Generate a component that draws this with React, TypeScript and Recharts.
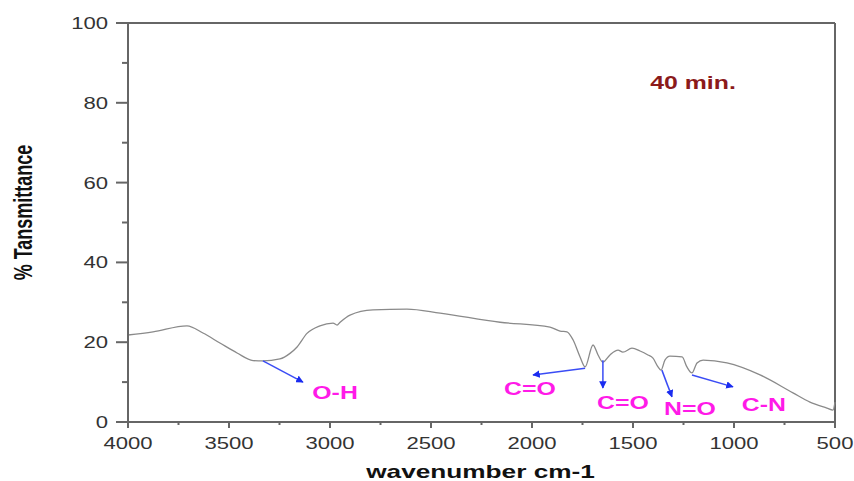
import React from 'react';
import { LineChart, Line, XAxis, YAxis, ReferenceLine, ReferenceDot } from 'recharts';

// FTIR spectrum, 40 min sample (wavenumber cm-1 vs % transmittance)
const wavenumber = [4000, 3876, 3708, 3629, 3545, 3460, 3381, 3332, 3248, 3198, 3163, 3114, 3050, 2985, 2965, 2950, 2901, 2787, 2619, 2455, 2158, 1911, 1861, 1827, 1797, 1762, 1737, 1698, 1673, 1649, 1614, 1574, 1550, 1505, 1465, 1426, 1401, 1376, 1361, 1342, 1317, 1257, 1233, 1208, 1183, 1153, 1035, 871, 708, 624, 540, 510, 500];
const transmittance = [21.8, 22.6, 24.1, 22.3, 19.8, 17.3, 15.4, 15.3, 15.8, 17.2, 18.8, 22.2, 24.1, 24.8, 24.3, 25, 26.8, 28.1, 28.3, 27.3, 25, 23.8, 22.8, 22.6, 20.6, 16.3, 13.8, 19.3, 16.8, 15, 16.8, 18, 17.5, 18.5, 17.8, 16.8, 16, 13.8, 13, 15.5, 16.5, 16.3, 13.8, 12.3, 14.8, 15.5, 14.8, 11.8, 7.3, 5, 3.5, 3, 5];

const xTicks = [4000, 3750, 3500, 3250, 3000, 2750, 2500, 2250, 2000, 1750, 1500, 1250, 1000, 750, 500];
const yTicks = [0, 10, 20, 30, 40, 50, 60, 70, 80, 90, 100];

const bandLabels = ['O-H', 'C=O', 'C=O', 'N=O', 'C-N'];
const labelWn = [2975, 2010, 1550, 1218, 852];
const labelT = [7.3, 8.3, 5, 3.3, 4.5];
const arrowFromWn = [3332, 1737, 1649, 1357, 1208];
const arrowFromT = [15.3, 13.5, 15.5, 13, 11.8];
const arrowToWn = [3134, 1995, 1649, 1307, 1005];
const arrowToT = [10, 11.8, 8.5, 6.3, 8.8];

const data = wavenumber.map((w, i) => ({ wn: w, t: transmittance[i] }));

const axisColor = '#666';
const font = '"Liberation Sans", Arial, sans-serif';
const stretch = 1.38; // text in the original is stretched horizontally

const SText = ({ x, y, anchor = 'middle', size, fill, bold, rotate, children }: any) => (
  <text
    transform={`translate(${x},${y}) scale(${stretch},1)${rotate ? ` rotate(${rotate})` : ''}`}
    textAnchor={anchor}
    fontSize={size}
    fill={fill}
    fontWeight={bold ? 'bold' : 'normal'}
    fontFamily={font}
  >
    {children}
  </text>
);

const XTick = (props: any) => {
  const { x, y, payload } = props;
  const major = payload.value % 500 === 0;
  return (
    <g>
      <line x1={x} y1={y} x2={x} y2={y + (major ? 6 : 3)} stroke={axisColor} strokeWidth={2} />
      {major && <SText x={x} y={y + 27} size={16} fill="#333">{payload.value}</SText>}
    </g>
  );
};

const YTick = (props: any) => {
  const { x, y, payload } = props;
  const major = payload.value % 20 === 0;
  return (
    <g>
      <line x1={x} y1={y} x2={x - (major ? 12 : 6)} y2={y} stroke={axisColor} strokeWidth={2} />
      {major && <SText x={x - 20} y={y + 6} anchor="end" size={16} fill="#333">{payload.value}</SText>}
    </g>
  );
};

const bandLabel = (text: string, color: string, size: number) => (p: any) => (
  <SText x={p.viewBox.x} y={p.viewBox.y + size * 0.36} size={size} fill={color} bold>{text}</SText>
);

export default function App() {
  return (
    <div style={{ position: 'absolute', left: 0, top: 0, width: 854, height: 481, background: '#fff' }}>
      <LineChart width={854} height={481} data={data} margin={{ top: 23, right: 19, left: 68, bottom: 29 }}>
        <defs>
          <marker id="arrowHead" viewBox="0 0 10 10" refX="9" refY="5" markerWidth="5" markerHeight="5" orient="auto">
            <path d="M0,0 L10,5 L0,10 z" fill="#1a2cf0" />
          </marker>
        </defs>
        <XAxis
          dataKey="wn"
          type="number"
          domain={[500, 4000]}
          reversed
          ticks={xTicks}
          interval={0}
          tickSize={0}
          tickMargin={0}
          tickLine={false}
          tick={<XTick />}
          height={30}
          axisLine={{ stroke: axisColor, strokeWidth: 2 }}
          label={{
            content: (p: any) => (
              <SText x={p.viewBox.x + p.viewBox.width / 2 - 1} y={p.viewBox.y + 56} size={19} fill="#111" bold>wavenumber cm-1</SText>
            ),
          }}
        />
        <YAxis
          type="number"
          domain={[0, 100]}
          ticks={yTicks}
          interval={0}
          tickSize={0}
          tickMargin={0}
          tickLine={false}
          tick={<YTick />}
          width={60}
          axisLine={{ stroke: axisColor, strokeWidth: 2 }}
          label={{
            content: (p: any) => (
              <SText x={32} y={p.viewBox.y + p.viewBox.height / 2 - 10} size={18} fill="#111" bold rotate={-90}>% Tansmittance</SText>
            ),
          }}
        />
        <ReferenceLine y={100} stroke={axisColor} strokeWidth={2} />
        <ReferenceLine x={500} stroke={axisColor} strokeWidth={2} />
        <Line type="monotone" dataKey="t" stroke="#8a8a8a" strokeWidth={1.3} dot={false} isAnimationActive={false} />
        {bandLabels.map((b, i) => (
          <ReferenceLine
            key={'a' + i}
            segment={[{ x: arrowFromWn[i], y: arrowFromT[i] }, { x: arrowToWn[i], y: arrowToT[i] }]}
            shape={(p: any) => (
              <line x1={p.x1} y1={p.y1} x2={p.x2} y2={p.y2} stroke="#3a4cf5" strokeWidth={1.5} markerEnd="url(#arrowHead)" />
            )}
          />
        ))}
        {bandLabels.map((b, i) => (
          <ReferenceDot
            key={'l' + i}
            x={labelWn[i]}
            y={labelT[i]}
            r={0}
            fill="none"
            stroke="none"
            label={{ content: bandLabel(b, '#ff1ae8', 18) }}
          />
        ))}
        <ReferenceDot x={1203} y={85.2} r={0} fill="none" stroke="none" label={{ content: bandLabel('40 min.', '#8b1a1a', 18) }} />
      </LineChart>
    </div>
  );
}
